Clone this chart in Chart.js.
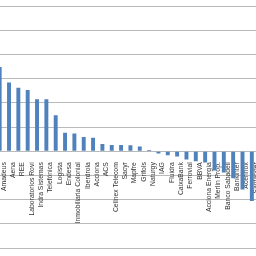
<!DOCTYPE html>
<html>
<head>
<meta charset="utf-8">
<script src="https://cdn.jsdelivr.net/npm/chart.js@4/dist/chart.umd.min.js"></script>
<style>
  html, body { margin: 0; padding: 0; background: #fff; overflow: hidden; }
  #wrap { position: absolute; left: -5px; top: 0; width: 268px; height: 256px; }
</style>
</head>
<body>
<div id="wrap"><canvas id="chart"></canvas></div>
<script>
const companies = [
  "Amadeus", "Aena", "REE", "Laboratorios Rovi", "Indra Sistemas", "Telefónica",
  "Logista", "Endesa", "Inmobiliaria Colonial", "Iberdrola", "Acciona", "ACS",
  "Cellnex Telecom", "Sacyr", "Mapfre", "Grifols", "Naturgy", "IAG", "Fluidra",
  "CaixaBank", "Ferrovial", "BBVA", "Acciona Energía", "Merlin Prop.",
  "Banco Sabadell", "Bankinter", "Acerinox", "Santander",
];
const changes = [
  34.8, 28.4, 26.2, 25.3, 21.5, 21.5,
  14.9, 7.6, 7.3, 5.9, 5.6, 3.0,
  2.6, 2.6, 2.5, 1.9, 0.5, -0.9, -1.7,
  -2.2, -3.4, -4.2, -4.7, -8.0,
  -8.8, -11.2, -15.8, -20.6,
];
const yTicks = { min: -40, max: 60, step: 10 };

new Chart(document.getElementById("chart").getContext("2d"), {
  type: "bar",
  data: {
    labels: companies,
    datasets: [
      {
        data: changes,
        backgroundColor: "#4f81bd",
        borderWidth: 0,
        categoryPercentage: 1,
        barPercentage: 0.42,
      },
    ],
  },
  options: {
    responsive: true,
    maintainAspectRatio: false,
    animation: false,
    layout: { padding: { top: 6, bottom: 8, left: 0, right: 0 } },
    plugins: { legend: { display: false }, tooltip: { enabled: false } },
    scales: {
      x: {
        position: { y: 0 },
        grid: { display: false },
        border: { display: false },
        ticks: {
          autoSkip: false,
          minRotation: 90,
          maxRotation: 90,
          padding: 3,
          labelOffset: 4,
          color: "#333333",
          font: { family: "Liberation Sans, Arial, sans-serif", size: 6.8 },
        },
      },
      y: {
        min: yTicks.min,
        max: yTicks.max,
        ticks: { display: false, stepSize: yTicks.step },
        grid: { color: "#b9b9b9", lineWidth: 1, drawTicks: false },
        border: { display: false },
      },
    },
  },
});
</script>
</body>
</html>
